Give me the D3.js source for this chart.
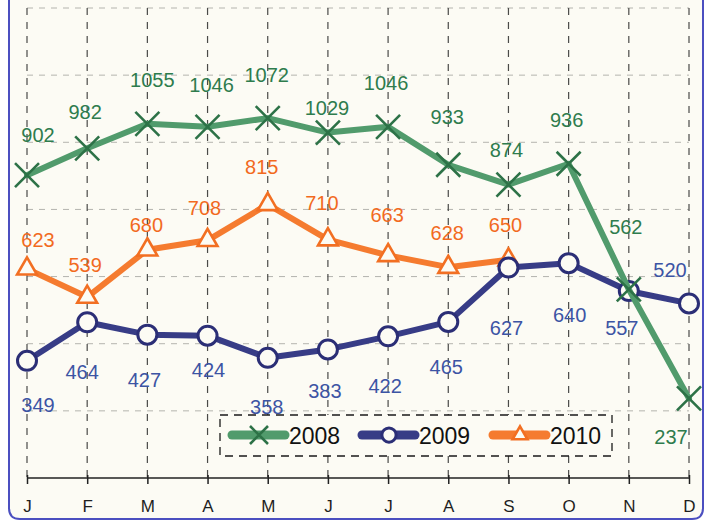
<!DOCTYPE html>
<html lang="en">
<head>
<meta charset="utf-8">
<script src="https://cdn.jsdelivr.net/npm/d3@7"></script>
<style>
  body { margin: 0; background: #ffffff; }
  svg { display: block; }
  text { font-family: "Liberation Sans", Arial, sans-serif; }
</style>
</head>
<body>
<script>
// data
const months = ["J", "F", "M", "A", "M", "J", "J", "A", "S", "O", "N", "D"];
const years = ["2008", "2009", "2010"];
const values2008 = [902, 982, 1055, 1046, 1072, 1029, 1046, 933, 874, 936, 562, 237];
const values2009 = [349, 464, 427, 424, 358, 383, 422, 465, 627, 640, 557, 520];
const values2010 = [623, 539, 680, 708, 815, 710, 663, 628, 650];
const yTicks = [0, 200, 400, 600, 800, 1000, 1200, 1400];

// label nudges (px, relative to point) - hand placed like the original
const nudge2008 = [[11,-40],[-2,-36],[5,-44],[4,-42],[-1,-43],[-1,-25],[-2,-44],[-1,-48],[-2,-35],[-2,-44],[-3,-62],[-18,39]];
const nudge2009 = [[11,44],[-5,50],[-3,45],[1,34],[-1,49],[-3,42],[-3,50],[-2,45],[-2,60],[1,52],[-7,37],[-19,-33]];
const nudge2010 = [[11,-29],[-2,-32],[-1,-25],[-3,-32],[-6,-37],[-6,-37],[-1,-40],[-1,-34],[-3,-35]];

const w = 709, h = 521;
const bg = "#fcfbf4";

const svg = d3.select("body").append("svg")
  .attr("width", w)
  .attr("height", h);

// frame
svg.append("path")
  .attr("d", "M9,-5 L9,508 Q9,519 20,519 L692,519 Q703,519 703,508 L703,-5")
  .attr("fill", bg)
  .attr("stroke", "#4b4fc0")
  .attr("stroke-width", 2);

const xScale = d3.scalePoint()
  .domain(d3.range(months.length))
  .range([27, 689]);

const yScale = d3.scaleLinear()
  .domain([0, 1400])
  .range([478, 8]);

// horizontal grid
svg.selectAll(".hgrid")
  .data(yTicks.slice(1))
  .enter()
  .append("line")
  .attr("class", "hgrid")
  .attr("x1", 27).attr("x2", 689)
  .attr("y1", d => yScale(d)).attr("y2", d => yScale(d))
  .attr("stroke", "#b4b4ae")
  .attr("stroke-width", 1)
  .attr("stroke-dasharray", "6,6");

// vertical grid
svg.selectAll(".vgrid")
  .data(d3.range(months.length))
  .enter()
  .append("line")
  .attr("class", "vgrid")
  .attr("x1", d => xScale(d)).attr("x2", d => xScale(d))
  .attr("y1", yScale(1400)).attr("y2", yScale(0))
  .attr("stroke", "#4a4a48")
  .attr("stroke-width", 1.2)
  .attr("stroke-dasharray", "7,7");

// x axis
const xAxis = d3.axisBottom(xScale)
  .tickFormat(i => months[i])
  .tickSize(6)
  .tickPadding(16);

const gx = svg.append("g")
  .attr("transform", "translate(0," + yScale(0) + ")")
  .call(xAxis);
gx.select(".domain").attr("d", "M27,0H689").attr("stroke", "#222").attr("stroke-width", 1.5);
gx.selectAll(".tick line").attr("stroke", "#222").attr("stroke-width", 1.5).attr("y1", -3);
gx.selectAll(".tick text")
  .attr("font-size", "17px")
  .attr("fill", "#1e1e1e")
  .attr("font-family", "Liberation Sans, Arial, sans-serif");

const series = [
  { name: years[0], values: values2008, nudge: nudge2008, line: "#519b6c", mark: "#2d7247", label: "#2e7c4d", shape: "x" },
  { name: years[1], values: values2009, nudge: nudge2009, line: "#373c86", mark: "#2b2e76", label: "#3c54a4", shape: "circle" },
  { name: years[2], values: values2010, nudge: nudge2010, line: "#f57b2f", mark: "#f26f22", label: "#f26a1e", shape: "triangle" }
];

const lineGen = d3.line()
  .x((d, i) => xScale(i))
  .y(d => yScale(d));

function drawMarker(g, shape, s, k) {
  if (shape === "x") {
    const a = 12 * k;
    g.append("path")
      .attr("d", "M" + (-a) + "," + (-a) + "L" + a + "," + a + "M" + (-a) + "," + a + "L" + a + "," + (-a))
      .attr("stroke", s.mark)
      .attr("stroke-width", 2.6)
      .attr("fill", "none");
  } else if (shape === "circle") {
    g.append("circle")
      .attr("r", 9.5 * k)
      .attr("fill", bg)
      .attr("stroke", s.mark)
      .attr("stroke-width", 3);
  } else {
    g.append("path")
      .attr("d", d3.symbol().type(d3.symbolTriangle).size(170 * k * k)())
      .attr("fill", bg)
      .attr("stroke", s.mark)
      .attr("stroke-width", 2.6);
  }
}

const drawOrder = [series[2], series[1], series[0]];

drawOrder.forEach(s => {
  svg.append("path")
    .datum(s.values)
    .attr("d", lineGen)
    .attr("fill", "none")
    .attr("stroke", s.line)
    .attr("stroke-width", 6)
    .attr("stroke-linejoin", "round")
    .attr("stroke-linecap", "round");

  s.values.forEach((v, i) => {
    const g = svg.append("g")
      .attr("transform", "translate(" + xScale(i) + "," + yScale(v) + ")");
    drawMarker(g, s.shape, s, 1);
  });
});

// data labels
series.forEach(s => {
  svg.selectAll(null)
    .data(s.values)
    .enter()
    .append("text")
    .attr("x", (d, i) => xScale(i) + s.nudge[i][0])
    .attr("y", (d, i) => yScale(d) + s.nudge[i][1])
    .attr("text-anchor", "middle")
    .attr("dominant-baseline", "central")
    .attr("font-size", "20px")
    .attr("fill", s.label)
    .text(d => d);
});

// legend
const legend = svg.append("g");
legend.append("rect")
  .attr("x", 220).attr("y", 415)
  .attr("width", 392).attr("height", 41)
  .attr("fill", bg)
  .attr("stroke", "#1a1a1a")
  .attr("stroke-width", 1.3)
  .attr("stroke-dasharray", "8,6");

const legendX = [232, 362, 493];
series.forEach((s, i) => {
  const g = legend.append("g").attr("transform", "translate(" + legendX[i] + ",435)");
  g.append("line")
    .attr("x1", 0).attr("x2", 53)
    .attr("stroke", s.line)
    .attr("stroke-width", 9)
    .attr("stroke-linecap", "round");
  const m = g.append("g").attr("transform", "translate(27,0)");
  drawMarker(m, s.shape, s, 0.75);
  g.append("text")
    .attr("x", 57).attr("y", 1)
    .attr("dominant-baseline", "central")
    .attr("font-size", "23px")
    .attr("fill", "#111")
    .text(s.name);
});
</script>
</body>
</html>
